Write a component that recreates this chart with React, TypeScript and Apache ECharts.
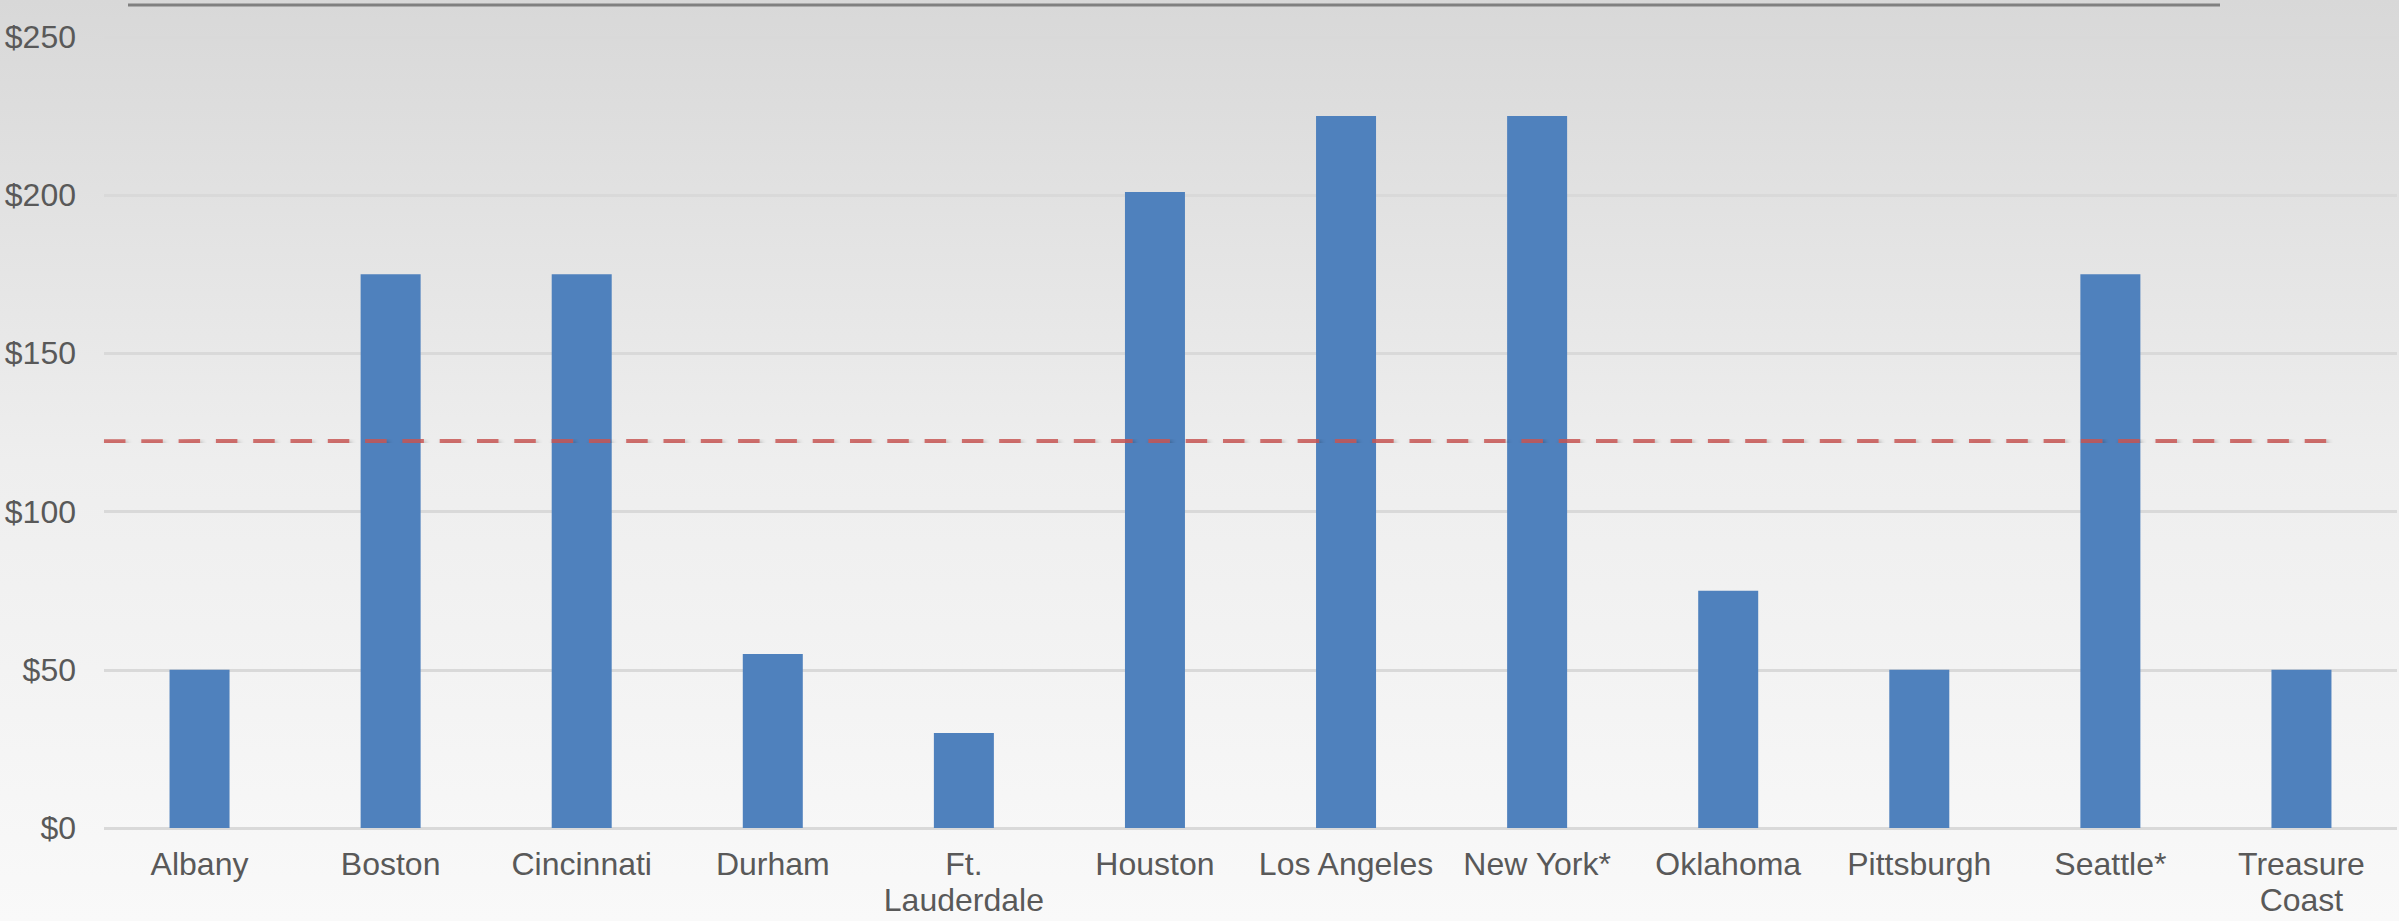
import React, { useEffect, useRef } from "react";
import * as echarts from "echarts";

const cities = [
  "Albany",
  "Boston",
  "Cincinnati",
  "Durham",
  "Ft.\nLauderdale",
  "Houston",
  "Los Angeles",
  "New York*",
  "Oklahoma",
  "Pittsburgh",
  "Seattle*",
  "Treasure\nCoast",
];
const fees = [50, 175, 175, 55, 30, 201, 225, 225, 75, 50, 175, 50];

// reference level drawn across the plot: [position along the category span, value]
const averageLine: [number, number][] = [
  [0, 122.1],
  [11.64, 122.5],
];

const yTicks = { min: 0, max: 250, interval: 50 };

const FONT = "'Liberation Sans', Arial, sans-serif";
const TEXT = "#595959";

export default function App() {
  const ref = useRef<HTMLDivElement>(null);

  useEffect(() => {
    if (!ref.current) return;
    const chart = echarts.init(ref.current, undefined, { renderer: "svg" });
    chart.setOption({
      animation: false,
      backgroundColor: new echarts.graphic.LinearGradient(0, 0, 0, 1, [
        { offset: 0, color: "#d8d8d8" },
        { offset: 0.5, color: "#eeeeee" },
        { offset: 1, color: "#f9f9f9" },
      ]),
      grid: { left: 104, right: 2, top: 37, bottom: 93, containLabel: false },
      xAxis: [
        {
          type: "category",
          data: cities,
          axisLine: { show: false },
          axisTick: { show: false },
          axisLabel: {
            interval: 0,
            color: TEXT,
            fontFamily: FONT,
            fontSize: 32,
            lineHeight: 36,
            margin: 18,
          },
        },
        {
          type: "value",
          min: 0,
          max: 12,
          show: false,
        },
      ],
      yAxis: {
        type: "value",
        min: yTicks.min,
        max: yTicks.max,
        interval: yTicks.interval,
        axisLine: { show: false },
        axisTick: { show: false },
        axisLabel: {
          color: TEXT,
          fontFamily: FONT,
          fontSize: 32,
          margin: 28,
          formatter: (v: number) => "$" + v,
        },
        splitLine: { lineStyle: { color: "#d9d9d9", width: 3 } },
      },
      graphic: [
        {
          type: "line",
          shape: { x1: 128, y1: 5, x2: 2220, y2: 5 },
          style: { stroke: "#808080", lineWidth: 3 },
        },
      ],
      series: [
        {
          type: "bar",
          data: fees,
          xAxisIndex: 0,
          barWidth: 60,
          itemStyle: { color: "#4f81bd" },
          z: 2,
        },
        {
          type: "line",
          xAxisIndex: 1,
          data: averageLine,
          symbol: "none",
          z: 3,
          lineStyle: {
            color: "rgba(200,84,82,0.82)",
            width: 5,
            type: [21.5, 15.8],
            cap: "butt",
            shadowColor: "rgba(0,0,0,0.45)",
            shadowBlur: 5,
            shadowOffsetX: 2,
            shadowOffsetY: 3,
          },
        },
      ],
    });
    return () => chart.dispose();
  }, []);

  return (
    <div
      ref={ref}
      style={{ position: "absolute", left: 0, top: 0, width: 2399, height: 921 }}
    />
  );
}
